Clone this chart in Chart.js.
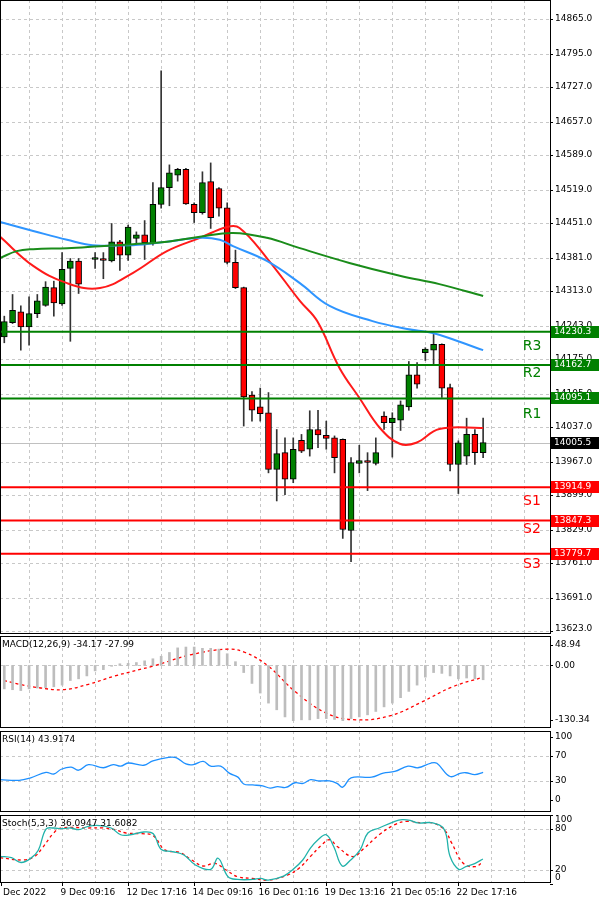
<!DOCTYPE html>
<html>
<head>
<meta charset="utf-8">
<script src="https://cdn.jsdelivr.net/npm/chart.js@4.4.1/dist/chart.umd.min.js"></script>
<style>
  body { margin: 0; background: #fff; width: 600px; height: 903px; overflow: hidden; position: relative; }
  canvas { position: absolute; left: 0; }
</style>
</head>
<body>
<canvas id="main" width="600" height="634" style="top:0"></canvas>
<canvas id="macd" width="600" height="92" style="top:636px"></canvas>
<canvas id="rsi" width="600" height="81" style="top:731px"></canvas>
<canvas id="stoch" width="600" height="88" style="top:815px"></canvas>
<script>
// candles, one per slot (slot 10 empty)
const opens  = [14220,14249,14271,14240,14267,14284,14320,14287,14359,14374,null,14377,14379,14374,14413,14386,14420,14427,14409,14489,14523,14548,14560,14489,14472,14535,14521,14482,14371,14320,14102,14078,14066,13951,13985,13931,14010,13992,14032,14020,14015,14012,13827,13963,13969,13963,14059,14046,14051,14078,14143,14188,14193,14205,14117,13961,13978,14022,13985];
const highs  = [14262,14306,14283,14301,14306,14332,14333,14391,14379,14379,null,14391,14391,14450,14416,14447,14433,14456,14533,14760,14569,14562,14562,14492,14555,14573,14523,14492,14396,14321,14109,14116,14107,14032,14015,14015,14022,14070,14071,14049,14019,14013,13975,14000,13985,14015,14068,14066,14090,14170,14168,14198,14225,14206,14124,14009,14055,14032,14055];
const lows   = [14208,14247,14193,14203,14259,14282,14262,14284,14211,14308,null,14359,14338,14372,14355,14375,14411,14377,14406,14481,14486,14536,14489,14452,14469,14440,14465,14368,14318,14039,14049,14049,13944,13887,13900,13924,13985,13978,13995,13992,13944,13811,13764,13944,13908,13960,14032,13976,14030,14071,14116,14172,14164,14097,13948,13902,13961,13961,13975];
const closes = [14251,14274,14240,14267,14293,14321,14289,14357,14374,14327,null,14378,14375,14413,14386,14443,14427,14411,14489,14523,14553,14560,14490,14472,14533,14462,14481,14371,14320,14098,14071,14064,13951,13983,13931,13992,13988,14032,14021,14014,13975,13829,13965,13969,13965,13985,14046,14055,14082,14143,14124,14195,14205,14116,13961,14005,14022,13985,14005.5];

// moving averages (slot, value)
const fastSlots = [-0.5,3.5,7.6,11.6,15.6,19.7,23.7,27,28.5,31.8,35.8,37.9,40.6,43.1,45.5,47.9,49.9,52.7,58];
const fastMA    = [14423,14364,14329,14319,14350,14394,14421,14443,14441,14380,14293,14252,14157,14094,14035,14003,14005,14033,14035];
const midSlots  = [-0.5,3.5,7.6,10.7,15.6,19.7,23.7,26.1,27.7,31.8,35.8,39.4,44.6,48.8,51.9,54.8,58];
const midMA     = [14453,14435,14417,14406,14406,14413,14421,14417,14404,14374,14329,14283,14252,14236,14228,14212,14193];
const slowSlots = [-0.5,1.5,3.5,7.6,11.6,15.6,19.7,23.7,27.7,31.8,35.8,41.8,47.9,52.7,58];
const slowMA    = [14380,14394,14398,14400,14404,14408,14413,14423,14431,14421,14400,14370,14344,14327,14303];

// support / resistance
const levelNames  = ["R3","R2","R1","S1","S2","S3"];
const levelValues = [14230.3,14162.7,14095.1,13914.9,13847.3,13779.7];
const levelTextAt = [14201,14145,14063,13887,13830,13759];
const lastPrice = 14005.5;

const priceTicks = [14865.0,14795.0,14727.0,14657.0,14589.0,14519.0,14451.0,14381.0,14313.0,14243.0,14175.0,14105.0,14037.0,13967.0,13899.0,13829.0,13761.0,13691.0,13623.0];

// MACD histogram per slot, signal (slot, value)
const macdHist = [-56,-58,-60,-56,-54,-53,-51,-47,-36,-32,-25,-13,-10,-2,4,5,7,11,16,22,31,42,44,44,41,41,39,28,9,-17,-43,-66,-90,-106,-123,-132,-130,-130,-127,-127,-129,-132,-127,-123,-118,-110,-99,-90,-77,-62,-47,-28,-17,-19,-25,-32,-30,-32,-34.17];
const macdSigSlots = [-0.06,2.3,4.1,7.1,10.2,13.4,18.1,22.7,27.1,29.2,32,35.2,39,42.6,46.8,50.5,54.3,58];
const macdSignal   = [-36,-47,-53,-58,-45,-25,-1,26,39,31,-2,-62,-114,-130,-120,-88,-51,-27.99];

// RSI(14)
const rsiSlots = [-0.52,1.8,3.2,5.05,6.0,6.9,8.1,9.0,10.2,12.0,13.2,14.1,15.0,16.9,18.0,19.9,20.8,22.0,22.9,24.1,25.0,26.2,27.3,28.3,29.0,30.1,31.3,32.2,33.1,34.1,35.2,36.2,37.1,38.0,39.4,40.3,41.0,42.0,44.5,45.9,47.3,48.9,50.1,51.7,52.4,54.0,55.2,55.9,57.0,58.0];
const rsiValues = [32.3,31.3,35.3,43.8,41.3,48.8,52.2,47.3,56.2,51.2,56.2,53.7,58.7,55.2,62.2,67.7,67.2,57.2,56.2,61.2,53.7,53.7,42.3,36.3,25.4,23.9,22.4,18.9,21.4,19.9,27.4,26.4,32.3,30.3,30.3,26.4,20.4,35.3,36.3,42.8,45.3,53.7,51.2,58.7,58.2,37.3,42.3,43.3,40.3,43.9];

// Stochastic(5,3,3)
const stochKSlots = [-0.52,0.87,2.03,3.19,4.12,5.05,5.98,6.9,8.07,9.0,10.16,11.55,12.94,14.1,15.26,16.9,18.05,18.98,20.37,21.76,23.15,25.0,25.9,27.1,28.26,30.1,31.05,31.97,33.83,34.99,36.15,37.08,38.0,39.0,39.9,40.93,41.95,43.1,44.04,45.4,47.3,48.2,49.15,50.08,51.9,53.3,54.0,55.04,55.9,57.04,57.97];
const stochK = [40,38,31,37,49,80,81.5,80.5,81.5,79,84,85,81.5,71.6,71.6,75.6,73,50.5,47,42,27.4,21,37.2,10.2,6.2,6.2,7.7,5.2,11.1,21,34.7,52,64.3,71.6,54.4,25.9,34.7,49.5,74.1,81.5,91.3,93.8,92.8,88.9,88.9,79,39.7,21,25,29.8,36.1];
const stochDSlots = [-0.52,2.27,3.66,4.59,5.98,6.9,10.16,12.0,13.4,14.8,16.66,18.05,19.44,21.3,22.7,24.08,25.5,26.87,28.26,30.1,31.97,34.3,35.7,37.08,38.47,39.4,40.33,42.2,43.6,45.4,47.3,48.7,50.54,51.9,53.3,54.2,55.6,57.0,57.97];
const stochD = [38,34.7,39.7,52,74.1,81.5,81.5,81.5,79,74.1,73.1,70.2,49.5,45.6,34.7,25.9,29.8,20,10.2,7.7,5.2,12.6,22.5,39.7,56.9,64.3,54.4,39.7,52,71.6,86.4,91.3,88.9,88.9,79,59.3,29.8,24.9,31.6];

const dateSlots  = [-0.45,7,15,23,31,39,47,55];
const dateLabels = ["Dec 2022","9 Dec 09:16","12 Dec 17:16","14 Dec 09:16","16 Dec 01:16","19 Dec 13:16","21 Dec 05:16","22 Dec 17:16"];
const gridSlots = [3,7,11,15,19,23,27,31,35,39,43,47,51,55,59,63];

const FONT = '9px "DejaVu Sans"';
const pts = (xs, ys) => xs.map((x, i) => ({ x: x, y: ys[i] }));

const deco = {
    id: "deco",
    beforeDatasetsDraw(chart) {
        const o = chart.options.plugins.deco;
        const ctx = chart.ctx;
        const a = chart.chartArea;
        const xs = chart.scales.x, ys = chart.scales.y;
        ctx.save();
        ctx.beginPath();
        ctx.rect(a.left, a.top, a.right - a.left, a.bottom - a.top);
        ctx.clip();
        ctx.strokeStyle = "#c8c8c8";
        ctx.lineWidth = 1;
        ctx.setLineDash([3, 3]);
        gridSlots.forEach((s) => {
            const x = Math.round(xs.getPixelForValue(s)) + 0.5;
            ctx.beginPath(); ctx.moveTo(x, a.top); ctx.lineTo(x, a.bottom); ctx.stroke();
        });
        o.grid.forEach((v) => {
            const y = Math.round(ys.getPixelForValue(v)) + 0.5;
            ctx.beginPath(); ctx.moveTo(a.left, y); ctx.lineTo(a.right, y); ctx.stroke();
        });
        ctx.setLineDash([]);
        if (o.last !== undefined) {
            const y = Math.round(ys.getPixelForValue(o.last)) + 0.5;
            ctx.strokeStyle = "#c0c0c0";
            ctx.beginPath(); ctx.moveTo(a.left, y); ctx.lineTo(a.right, y); ctx.stroke();
        }
        ctx.restore();
    },
    afterDatasetsDraw(chart) {
        const o = chart.options.plugins.deco;
        const ctx = chart.ctx;
        const a = chart.chartArea;
        const xs = chart.scales.x, ys = chart.scales.y;
        ctx.save();
        ctx.font = FONT;
        if (o.levels) {
            levelValues.forEach((v, i) => {
                const col = levelNames[i][0] === "R" ? "#008000" : "#ff0000";
                const y = ys.getPixelForValue(v);
                ctx.strokeStyle = col;
                ctx.lineWidth = 2;
                ctx.beginPath(); ctx.moveTo(a.left, y); ctx.lineTo(a.right, y); ctx.stroke();
                ctx.fillStyle = col;
                ctx.font = '14px "DejaVu Sans"';
                ctx.textAlign = "center";
                ctx.textBaseline = "middle";
                ctx.fillText(levelNames[i], 532, ys.getPixelForValue(levelTextAt[i]));
            });
            ctx.font = FONT;
        }
        // frame
        ctx.strokeStyle = "#000";
        ctx.lineWidth = 1;
        ctx.strokeRect(a.left + 0.5, a.top + 0.5, a.right - a.left, a.bottom - a.top - 1);
        // right axis
        ctx.fillStyle = "#000";
        ctx.textAlign = "left";
        ctx.textBaseline = "middle";
        o.axis.forEach((v, i) => {
            let y = ys.getPixelForValue(v);
            ctx.beginPath(); ctx.moveTo(a.right, Math.round(y) + 0.5); ctx.lineTo(a.right + 3, Math.round(y) + 0.5); ctx.stroke();
            y = Math.min(Math.max(y, a.top + 5), a.bottom - 5);
            ctx.fillText(o.axisText ? o.axisText[i] : v.toFixed(1), a.right + 5, y);
        });
        (o.tags || []).forEach((t) => {
            const y = Math.round(ys.getPixelForValue(t.v));
            ctx.fillStyle = t.bg;
            ctx.fillRect(a.right + 1, y - 6, 48, 12);
            ctx.fillStyle = "#fff";
            ctx.fillText(t.v.toFixed(1), a.right + 4, y);
        });
        if (o.title) {
            ctx.fillStyle = "#000";
            ctx.textBaseline = "top";
            ctx.fillText(o.title, a.left + 2, a.top + 4);
        }
        if (o.dates) {
            ctx.textBaseline = "middle";
            dateSlots.forEach((s, i) => {
                const x = Math.round(xs.getPixelForValue(s)) + 0.5;
                ctx.beginPath(); ctx.moveTo(x, a.bottom); ctx.lineTo(x, a.bottom + 3); ctx.stroke();
                ctx.fillText(dateLabels[i], Math.max(x - 2, 3), a.bottom + 10);
            });
        }
        ctx.restore();
    },
};

function xScale() {
    return { type: "linear", min: -0.52, max: 66.1, display: false, offset: false, grid: { offset: false } };
}

function makeChart(id, datasets, yMin, yMax, deco_opts, padBottom) {
    return new Chart(document.getElementById(id), {
        type: "bar",
        data: { datasets: datasets },
        options: {
            responsive: false,
            animation: false,
            devicePixelRatio: 1,
            layout: { padding: { right: 50, bottom: padBottom || 0 } },
            plugins: { legend: { display: false }, tooltip: { enabled: false }, deco: deco_opts },
            scales: { x: xScale(), y: { type: "linear", min: yMin, max: yMax, display: false } },
        },
        plugins: [deco],
    });
}

const lineDs = (data, color, width, dash) => ({
    type: "line", data: data, borderColor: color, borderWidth: width,
    borderDash: dash || [], pointRadius: 0, tension: 0.4, fill: false,
});

// main price panel
const wickData = [], bodyData = [], bodyColors = [];
opens.forEach((o, i) => {
    if (o === null) return;
    wickData.push({ x: i, y: [lows[i], highs[i]] });
    bodyData.push({ x: i, y: [o, closes[i]] });
    bodyColors.push(closes[i] >= o ? "#008000" : "#ff0000");
});

makeChart("main", [
    { data: wickData, backgroundColor: "#333", barThickness: 1, grouped: false, order: 3 },
    { data: bodyData, backgroundColor: bodyColors, borderColor: "#000", borderWidth: 1, borderSkipped: false,
      barThickness: 6, minBarLength: 2, grouped: false, order: 2 },
    Object.assign(lineDs(pts(slowSlots, slowMA), "#1a8c1a", 2), { order: 1 }),
    Object.assign(lineDs(pts(midSlots, midMA), "#2f95ff", 2), { order: 1 }),
    Object.assign(lineDs(pts(fastSlots, fastMA), "#ff1a1a", 2), { order: 1 }),
], 13617, 14903.6, {
    grid: priceTicks, axis: priceTicks, last: lastPrice, levels: true,
    tags: levelValues.map((v, i) => ({ v: v, bg: i < 3 ? "#008000" : "#ff0000" })).concat([{ v: lastPrice, bg: "#000" }]),
});

// MACD
makeChart("macd", [
    { data: macdHist.map((v, i) => ({ x: i, y: [0, v] })), backgroundColor: "#bdbdbd", barThickness: 2, grouped: false },
    lineDs(pts(macdSigSlots, macdSignal), "#ff0000", 1.3, [3, 3]),
], -149.5, 70.4, {
    grid: [0], axis: [48.94, 0, -130.34], axisText: ["48.94", "0.00", "-130.34"],
    title: "MACD(12,26,9) -34.17 -27.99",
});

// RSI
makeChart("rsi", [
    lineDs(pts(rsiSlots, rsiValues), "#1e90ff", 1.3),
], -19, 109.5, {
    grid: [70, 30], axis: [100, 70, 30, 0], axisText: ["100", "70", "30", "0"],
    title: "RSI(14) 43.9174",
});

// Stochastic
makeChart("stoch", [
    lineDs(pts(stochKSlots, stochK), "#20b2aa", 1.3),
    lineDs(pts(stochDSlots, stochD), "#ff0000", 1.3, [3, 3]),
], 1.0, 100.5, {
    grid: [80, 20], axis: [100, 80, 20, 0], axisText: ["100", "80", "20", "0"],
    title: "Stoch(5,3,3) 36.0947 31.6082", dates: true,
}, 20);
</script>
</body>
</html>
